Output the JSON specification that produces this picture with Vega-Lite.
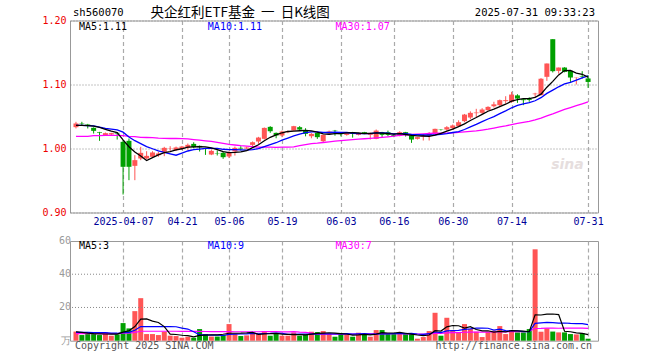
{
"$schema":"https://vega.github.io/schema/vega-lite/v6.json",
"autosize":{"type":"none"},
"padding":{"left":70,"top":20.5,"right":590,"bottom":339.5},
"background":"white",
"spacing":28.5,
"bounds":"flush",
"config":{"view":{"stroke":"#999","strokeWidth":1},"axis":{"labelFont":"DejaVu Sans Mono","labelFontSize":10,"ticks":false,"domain":false,"title":null,"labelOverlap":false}},
"datasets":{"k":[
{"i":0,"d":"2025-03-25","o":1.0333,"h":1.0417,"l":1.0313,"c":1.0391,"v":5.5,"m5":1.036,"m10":1.036,"m30":1.019,"vm5":5.4,"vm10":5.0,"vm30":4.3},
{"i":1,"d":"2025-03-26","o":1.0391,"h":1.0417,"l":1.0365,"c":1.0385,"v":3.4,"m5":1.036,"m10":1.036,"m30":1.019,"vm5":5.0,"vm10":5.0,"vm30":4.3},
{"i":2,"d":"2025-03-27","o":1.0375,"h":1.0385,"l":1.0313,"c":1.0354,"v":4,"m5":1.0356,"m10":1.0358,"m30":1.019,"vm5":4.6,"vm10":5.0,"vm30":4.3},
{"i":3,"d":"2025-03-28","o":1.0323,"h":1.033,"l":1.0234,"c":1.0276,"v":4.4,"m5":1.035,"m10":1.0352,"m30":1.02,"vm5":4.3,"vm10":4.9,"vm30":4.3},
{"i":4,"d":"2025-03-31","o":1.0255,"h":1.026,"l":1.012,"c":1.0245,"v":3.4,"m5":1.033,"m10":1.0335,"m30":1.02,"vm5":4.14,"vm10":4.9,"vm30":4.3},
{"i":5,"d":"2025-04-01","o":1.0208,"h":1.025,"l":1.0203,"c":1.024,"v":5,"m5":1.03,"m10":1.0315,"m30":1.0205,"vm5":4.04,"vm10":4.8,"vm30":4.3},
{"i":6,"d":"2025-04-02","o":1.0219,"h":1.0245,"l":1.021,"c":1.024,"v":3,"m5":1.0271,"m10":1.0302,"m30":1.0205,"vm5":3.96,"vm10":4.6,"vm30":4.3},
{"i":7,"d":"2025-04-03","o":1.0245,"h":1.025,"l":1.014,"c":1.0234,"v":3.8,"m5":1.0247,"m10":1.029,"m30":1.0205,"vm5":3.92,"vm10":4.5,"vm30":4.3},
{"i":8,"d":"2025-04-07","o":1.0104,"h":1.013,"l":0.9281,"c":0.9714,"v":10.6,"m5":1.0135,"m10":1.0255,"m30":1.02,"vm5":5.16,"vm10":4.8,"vm30":4.5},
{"i":9,"d":"2025-04-08","o":1.012,"h":1.0156,"l":0.9505,"c":0.9714,"v":7.4,"m5":1.0028,"m10":1.0179,"m30":1.019,"vm5":5.96,"vm10":5.05,"vm30":4.6},
{"i":10,"d":"2025-04-09","o":0.9729,"h":0.9896,"l":0.9505,"c":0.9818,"v":17.8,"m5":0.9944,"m10":1.0122,"m30":1.0185,"vm5":8.52,"vm10":6.28,"vm30":5.0},
{"i":11,"d":"2025-04-10","o":0.9844,"h":1.0026,"l":0.9818,"c":0.9932,"v":25.6,"m5":0.9882,"m10":1.0077,"m30":1.0175,"vm5":13.04,"vm10":8.5,"vm30":5.7},
{"i":12,"d":"2025-04-11","o":0.9844,"h":0.9958,"l":0.9833,"c":0.9885,"v":4,"m5":0.9813,"m10":1.003,"m30":1.0172,"vm5":13.08,"vm10":8.5,"vm30":5.7},
{"i":13,"d":"2025-04-14","o":0.987,"h":0.9958,"l":0.986,"c":0.9938,"v":4,"m5":0.9857,"m10":0.9996,"m30":1.017,"vm5":11.76,"vm10":8.46,"vm30":5.7},
{"i":14,"d":"2025-04-15","o":0.9896,"h":0.9948,"l":0.987,"c":0.9922,"v":3.4,"m5":0.9899,"m10":0.9964,"m30":1.0162,"vm5":10.96,"vm10":8.46,"vm30":5.7},
{"i":15,"d":"2025-04-16","o":0.9948,"h":1.0026,"l":0.988,"c":1.001,"v":5.4,"m5":0.9937,"m10":0.9941,"m30":1.0158,"vm5":8.48,"vm10":8.5,"vm30":5.7},
{"i":16,"d":"2025-04-17","o":0.9995,"h":1.0036,"l":0.9964,"c":1.0,"v":3,"m5":0.9951,"m10":0.9917,"m30":1.0156,"vm5":3.96,"vm10":8.5,"vm30":5.7},
{"i":17,"d":"2025-04-18","o":0.9974,"h":1.003,"l":0.996,"c":1.0016,"v":2.8,"m5":0.9977,"m10":0.9895,"m30":1.0156,"vm5":3.72,"vm10":8.4,"vm30":5.7},
{"i":18,"d":"2025-04-21","o":0.9994,"h":1.004,"l":0.998,"c":1.0031,"v":1.8,"m5":0.9996,"m10":0.9927,"m30":1.0155,"vm5":3.28,"vm10":7.52,"vm30":5.65},
{"i":19,"d":"2025-04-22","o":1.001,"h":1.0078,"l":0.9984,"c":1.0057,"v":2.4,"m5":1.0023,"m10":0.9961,"m30":1.015,"vm5":3.08,"vm10":7.02,"vm30":5.6},
{"i":20,"d":"2025-04-23","o":1.0072,"h":1.0098,"l":1.0005,"c":1.002,"v":1.8,"m5":1.0025,"m10":0.9981,"m30":1.014,"vm5":2.36,"vm10":5.42,"vm30":5.6},
{"i":21,"d":"2025-04-24","o":1.0041,"h":1.0046,"l":0.9953,"c":1.002,"v":7,"m5":1.0029,"m10":0.999,"m30":1.013,"vm5":3.16,"vm10":3.56,"vm30":5.6},
{"i":22,"d":"2025-04-25","o":1.0005,"h":1.001,"l":0.99,"c":0.9995,"v":4,"m5":1.0025,"m10":1.0001,"m30":1.012,"vm5":3.4,"vm10":3.56,"vm30":5.55},
{"i":23,"d":"2025-04-28","o":0.9906,"h":0.9984,"l":0.9896,"c":0.9963,"v":2.5,"m5":1.0011,"m10":1.0003,"m30":1.011,"vm5":3.54,"vm10":3.41,"vm30":5.5},
{"i":24,"d":"2025-04-29","o":0.9922,"h":0.9969,"l":0.9891,"c":0.9916,"v":2.5,"m5":0.9983,"m10":1.0003,"m30":1.0095,"vm5":3.56,"vm10":3.32,"vm30":5.5},
{"i":25,"d":"2025-04-30","o":0.9932,"h":0.9953,"l":0.9838,"c":0.9864,"v":3.4,"m5":0.9952,"m10":0.9988,"m30":1.008,"vm5":3.88,"vm10":3.12,"vm30":5.45},
{"i":26,"d":"2025-05-06","o":0.9875,"h":0.9958,"l":0.985,"c":0.9942,"v":10,"m5":0.9936,"m10":0.9982,"m30":1.0065,"vm5":4.48,"vm10":3.82,"vm30":5.45},
{"i":27,"d":"2025-05-07","o":0.9953,"h":1.003,"l":0.989,"c":1.001,"v":4,"m5":0.9939,"m10":0.9982,"m30":1.0055,"vm5":4.48,"vm10":3.94,"vm30":5.4},
{"i":28,"d":"2025-05-08","o":1.001,"h":1.0036,"l":0.9968,"c":1.0,"v":2.8,"m5":0.9946,"m10":0.9979,"m30":1.0045,"vm5":4.54,"vm10":4.04,"vm30":5.4},
{"i":29,"d":"2025-05-09","o":1.0,"h":1.003,"l":0.999,"c":1.0015,"v":3.2,"m5":0.9966,"m10":0.9974,"m30":1.0038,"vm5":4.68,"vm10":4.12,"vm30":5.4},
{"i":30,"d":"2025-05-12","o":1.0057,"h":1.011,"l":1.002,"c":1.0098,"v":5,"m5":1.0013,"m10":0.9982,"m30":1.0029,"vm5":5.0,"vm10":4.44,"vm30":5.38},
{"i":31,"d":"2025-05-13","o":1.0109,"h":1.0182,"l":1.0073,"c":1.0171,"v":4,"m5":1.0059,"m10":0.9997,"m30":1.0021,"vm5":3.8,"vm10":4.14,"vm30":5.4},
{"i":32,"d":"2025-05-14","o":1.0151,"h":1.0328,"l":1.014,"c":1.0322,"v":5.8,"m5":1.0121,"m10":1.003,"m30":1.002,"vm5":4.16,"vm10":4.32,"vm30":5.46},
{"i":33,"d":"2025-05-15","o":1.0338,"h":1.0349,"l":1.0245,"c":1.027,"v":3,"m5":1.0175,"m10":1.0061,"m30":1.002,"vm5":4.2,"vm10":4.37,"vm30":5.41},
{"i":34,"d":"2025-05-16","o":1.0244,"h":1.025,"l":1.016,"c":1.0203,"v":4,"m5":1.0213,"m10":1.009,"m30":1.0019,"vm5":4.36,"vm10":4.52,"vm30":5.43},
{"i":35,"d":"2025-05-19","o":1.0203,"h":1.028,"l":1.0177,"c":1.0265,"v":3,"m5":1.0246,"m10":1.013,"m30":1.002,"vm5":3.96,"vm10":4.48,"vm30":5.37},
{"i":36,"d":"2025-05-20","o":1.0255,"h":1.028,"l":1.024,"c":1.027,"v":3,"m5":1.0266,"m10":1.0162,"m30":1.0021,"vm5":3.76,"vm10":3.78,"vm30":5.37},
{"i":37,"d":"2025-05-21","o":1.0281,"h":1.0354,"l":1.0276,"c":1.0349,"v":5,"m5":1.0271,"m10":1.0196,"m30":1.0024,"vm5":3.6,"vm10":3.88,"vm30":5.41},
{"i":38,"d":"2025-05-22","o":1.0333,"h":1.035,"l":1.028,"c":1.0296,"v":3,"m5":1.0277,"m10":1.0226,"m30":1.0044,"vm5":3.6,"vm10":3.9,"vm30":5.15},
{"i":39,"d":"2025-05-23","o":1.0281,"h":1.0317,"l":1.019,"c":1.0229,"v":3.5,"m5":1.0282,"m10":1.0247,"m30":1.0061,"vm5":3.5,"vm10":3.93,"vm30":5.02},
{"i":40,"d":"2025-05-26","o":1.0192,"h":1.024,"l":1.016,"c":1.0229,"v":5.4,"m5":1.0275,"m10":1.026,"m30":1.0075,"vm5":3.98,"vm10":3.97,"vm30":4.61},
{"i":41,"d":"2025-05-27","o":1.0244,"h":1.025,"l":1.015,"c":1.0177,"v":5.2,"m5":1.0256,"m10":1.0261,"m30":1.0083,"vm5":4.42,"vm10":4.09,"vm30":3.93},
{"i":42,"d":"2025-05-28","o":1.0114,"h":1.0216,"l":1.0088,"c":1.0213,"v":5.8,"m5":1.0229,"m10":1.025,"m30":1.0094,"vm5":4.58,"vm10":4.09,"vm30":3.99},
{"i":43,"d":"2025-05-29","o":1.0234,"h":1.028,"l":1.022,"c":1.0265,"v":4,"m5":1.0223,"m10":1.025,"m30":1.0105,"vm5":4.78,"vm10":4.19,"vm30":3.99},
{"i":44,"d":"2025-05-30","o":1.0281,"h":1.029,"l":1.02,"c":1.0276,"v":2.4,"m5":1.0232,"m10":1.0257,"m30":1.0116,"vm5":4.56,"vm10":4.03,"vm30":3.96},
{"i":45,"d":"2025-06-03","o":1.0244,"h":1.025,"l":1.019,"c":1.0224,"v":4,"m5":1.0231,"m10":1.0253,"m30":1.0124,"vm5":4.28,"vm10":4.13,"vm30":3.91},
{"i":46,"d":"2025-06-04","o":1.0213,"h":1.025,"l":1.02,"c":1.0239,"v":4,"m5":1.0243,"m10":1.025,"m30":1.0132,"vm5":4.04,"vm10":4.23,"vm30":3.94},
{"i":47,"d":"2025-06-05","o":1.0255,"h":1.026,"l":1.017,"c":1.0234,"v":2.4,"m5":1.0248,"m10":1.0238,"m30":1.0139,"vm5":3.36,"vm10":3.97,"vm30":3.93},
{"i":48,"d":"2025-06-06","o":1.0213,"h":1.0245,"l":1.0205,"c":1.0239,"v":4.8,"m5":1.0242,"m10":1.0233,"m30":1.0146,"vm5":3.52,"vm10":4.15,"vm30":4.03},
{"i":49,"d":"2025-06-09","o":1.0255,"h":1.026,"l":1.0225,"c":1.0234,"v":4,"m5":1.0234,"m10":1.0233,"m30":1.0152,"vm5":3.84,"vm10":4.2,"vm30":4.08},
{"i":50,"d":"2025-06-10","o":1.0213,"h":1.025,"l":1.014,"c":1.0229,"v":2.4,"m5":1.0235,"m10":1.0233,"m30":1.0159,"vm5":3.52,"vm10":3.9,"vm30":4.1},
{"i":51,"d":"2025-06-11","o":1.015,"h":1.0297,"l":1.0145,"c":1.028,"v":6.4,"m5":1.0243,"m10":1.0243,"m30":1.0167,"vm5":4.0,"vm10":4.02,"vm30":4.08},
{"i":52,"d":"2025-06-12","o":1.0255,"h":1.026,"l":1.0174,"c":1.0213,"v":6.4,"m5":1.0239,"m10":1.0243,"m30":1.0175,"vm5":4.8,"vm10":4.08,"vm30":4.16},
{"i":53,"d":"2025-06-13","o":1.0255,"h":1.028,"l":1.019,"c":1.0213,"v":4,"m5":1.0234,"m10":1.0238,"m30":1.0183,"vm5":4.64,"vm10":4.08,"vm30":4.21},
{"i":54,"d":"2025-06-16","o":1.0213,"h":1.0229,"l":1.0177,"c":1.0197,"v":4,"m5":1.0226,"m10":1.023,"m30":1.0192,"vm5":4.64,"vm10":4.24,"vm30":4.26},
{"i":55,"d":"2025-06-17","o":1.0203,"h":1.027,"l":1.019,"c":1.0255,"v":4,"m5":1.0232,"m10":1.0233,"m30":1.0205,"vm5":4.96,"vm10":4.24,"vm30":4.28},
{"i":56,"d":"2025-06-18","o":1.0255,"h":1.026,"l":1.0187,"c":1.0218,"v":4,"m5":1.0219,"m10":1.0231,"m30":1.0214,"vm5":4.48,"vm10":4.24,"vm30":4.08},
{"i":57,"d":"2025-06-19","o":1.0203,"h":1.021,"l":1.0088,"c":1.014,"v":4,"m5":1.0205,"m10":1.0222,"m30":1.0219,"vm5":4.0,"vm10":4.4,"vm30":4.08},
{"i":58,"d":"2025-06-20","o":1.0151,"h":1.018,"l":1.014,"c":1.0177,"v":1.2,"m5":1.0197,"m10":1.0216,"m30":1.0225,"vm5":3.44,"vm10":4.04,"vm30":4.03},
{"i":59,"d":"2025-06-23","o":1.018,"h":1.0229,"l":1.0125,"c":1.0187,"v":2.2,"m5":1.0195,"m10":1.0211,"m30":1.023,"vm5":3.08,"vm10":3.86,"vm30":4.0},
{"i":60,"d":"2025-06-24","o":1.0203,"h":1.0255,"l":1.0125,"c":1.0229,"v":5.8,"m5":1.019,"m10":1.0211,"m30":1.0235,"vm5":3.44,"vm10":4.2,"vm30":4.02},
{"i":61,"d":"2025-06-25","o":1.0229,"h":1.031,"l":1.022,"c":1.0307,"v":16.8,"m5":1.0208,"m10":1.0214,"m30":1.0239,"vm5":6.0,"vm10":5.24,"vm30":4.45},
{"i":62,"d":"2025-06-26","o":1.0297,"h":1.03,"l":1.028,"c":1.0292,"v":3,"m5":1.0238,"m10":1.0222,"m30":1.0238,"vm5":5.8,"vm10":4.9,"vm30":4.36},
{"i":63,"d":"2025-06-27","o":1.0296,"h":1.035,"l":1.028,"c":1.0333,"v":13.8,"m5":1.027,"m10":1.0234,"m30":1.024,"vm5":8.32,"vm10":5.88,"vm30":4.72},
{"i":64,"d":"2025-06-30","o":1.0318,"h":1.0375,"l":1.03,"c":1.036,"v":6.4,"m5":1.0304,"m10":1.025,"m30":1.0246,"vm5":9.16,"vm10":6.12,"vm30":4.8},
{"i":65,"d":"2025-07-01","o":1.0349,"h":1.044,"l":1.034,"c":1.0411,"v":5,"m5":1.0341,"m10":1.0265,"m30":1.0251,"vm5":9.0,"vm10":6.22,"vm30":4.86},
{"i":66,"d":"2025-07-02","o":1.0427,"h":1.054,"l":1.041,"c":1.053,"v":10,"m5":1.0385,"m10":1.0297,"m30":1.0259,"vm5":7.64,"vm10":6.82,"vm30":5.1},
{"i":67,"d":"2025-07-03","o":1.0484,"h":1.058,"l":1.046,"c":1.0557,"v":7,"m5":1.0438,"m10":1.0338,"m30":1.0266,"vm5":8.44,"vm10":7.12,"vm30":5.16},
{"i":68,"d":"2025-07-04","o":1.0552,"h":1.062,"l":1.049,"c":1.0562,"v":5.4,"m5":1.0484,"m10":1.0377,"m30":1.0275,"vm5":6.76,"vm10":7.54,"vm30":5.24},
{"i":69,"d":"2025-07-07","o":1.0557,"h":1.063,"l":1.054,"c":1.0609,"v":2.2,"m5":1.0534,"m10":1.0419,"m30":1.0288,"vm5":5.92,"vm10":7.54,"vm30":5.2},
{"i":70,"d":"2025-07-08","o":1.0599,"h":1.066,"l":1.059,"c":1.065,"v":5.4,"m5":1.0582,"m10":1.0461,"m30":1.0302,"vm5":6.0,"vm10":7.5,"vm30":5.2},
{"i":71,"d":"2025-07-09","o":1.066,"h":1.073,"l":1.064,"c":1.069,"v":6,"m5":1.0614,"m10":1.0499,"m30":1.0319,"vm5":5.2,"vm10":6.42,"vm30":5.23},
{"i":72,"d":"2025-07-10","o":1.0677,"h":1.0765,"l":1.066,"c":1.0755,"v":8.8,"m5":1.0653,"m10":1.0546,"m30":1.0337,"vm5":5.56,"vm10":7.0,"vm30":5.33},
{"i":73,"d":"2025-07-11","o":1.074,"h":1.0817,"l":1.07,"c":1.0755,"v":4,"m5":1.0692,"m10":1.0588,"m30":1.0353,"vm5":5.28,"vm10":6.02,"vm30":5.33},
{"i":74,"d":"2025-07-14","o":1.073,"h":1.0885,"l":1.0713,"c":1.0843,"v":6,"m5":1.0739,"m10":1.0636,"m30":1.0372,"vm5":6.04,"vm10":5.98,"vm30":5.45},
{"i":75,"d":"2025-07-15","o":1.083,"h":1.0848,"l":1.0713,"c":1.078,"v":5,"m5":1.0765,"m10":1.0673,"m30":1.0391,"vm5":5.96,"vm10":5.98,"vm30":5.48},
{"i":76,"d":"2025-07-16","o":1.077,"h":1.0775,"l":1.0677,"c":1.0755,"v":5,"m5":1.0778,"m10":1.0696,"m30":1.0408,"vm5":5.76,"vm10":5.48,"vm30":5.51},
{"i":77,"d":"2025-07-17","o":1.0775,"h":1.08,"l":1.073,"c":1.076,"v":7,"m5":1.0779,"m10":1.0716,"m30":1.0425,"vm5":5.4,"vm10":5.48,"vm30":5.67},
{"i":78,"d":"2025-07-18","o":1.0848,"h":1.087,"l":1.08,"c":1.0858,"v":55,"m5":1.0799,"m10":1.0746,"m30":1.0446,"vm5":15.6,"vm10":10.44,"vm30":7.34},
{"i":79,"d":"2025-07-21","o":1.0833,"h":1.11,"l":1.0833,"c":1.109,"v":5.4,"m5":1.0849,"m10":1.0794,"m30":1.0475,"vm5":15.48,"vm10":10.76,"vm30":7.39},
{"i":80,"d":"2025-07-22","o":1.112,"h":1.1328,"l":1.1057,"c":1.1328,"v":7.5,"m5":1.0958,"m10":1.0861,"m30":1.0511,"vm5":15.98,"vm10":10.97,"vm30":7.56},
{"i":81,"d":"2025-07-23","o":1.1708,"h":1.1708,"l":1.1188,"c":1.1208,"v":5.5,"m5":1.1049,"m10":1.0913,"m30":1.0542,"vm5":16.08,"vm10":10.92,"vm30":7.53},
{"i":82,"d":"2025-07-24","o":1.1213,"h":1.1265,"l":1.117,"c":1.1265,"v":5,"m5":1.115,"m10":1.0964,"m30":1.0577,"vm5":15.68,"vm10":10.54,"vm30":7.48},
{"i":83,"d":"2025-07-25","o":1.1265,"h":1.127,"l":1.119,"c":1.1198,"v":5,"m5":1.1218,"m10":1.1009,"m30":1.061,"vm5":5.68,"vm10":10.64,"vm30":7.51},
{"i":84,"d":"2025-07-28","o":1.1213,"h":1.1213,"l":1.104,"c":1.1109,"v":4,"m5":1.1222,"m10":1.1035,"m30":1.064,"vm5":5.4,"vm10":10.44,"vm30":7.51},
{"i":85,"d":"2025-07-29","o":1.1104,"h":1.111,"l":1.1,"c":1.1109,"v":3.8,"m5":1.1178,"m10":1.1068,"m30":1.0669,"vm5":4.66,"vm10":10.32,"vm30":7.51},
{"i":86,"d":"2025-07-30","o":1.113,"h":1.1208,"l":1.1094,"c":1.112,"v":4.5,"m5":1.116,"m10":1.1105,"m30":1.0699,"vm5":4.46,"vm10":10.27,"vm30":7.52},
{"i":87,"d":"2025-07-31","o":1.1094,"h":1.1145,"l":1.0948,"c":1.104,"v":1.2,"m5":1.1115,"m10":1.1133,"m30":1.0729,"vm5":3.7,"vm10":9.69,"vm30":7.43}
],
"hl":[{"t":"sh560070","x":-0.5,"y":1.2114}],
"hr":[{"t":"2025-07-31 09:33:23","x":88.17,"y":1.2114}],
"ttl":[{"t":"央企红利ETF基金\u00a0\u00a0一\u00a0\u00a0日K线图","x":27.9,"y":1.2114}],
"wm":[{"t":"sina","x":83.5,"y":0.974}],
"mal":[
{"t":"MA5:1.11","x":0.5,"y":1.1895,"s":"MA5"},
{"t":"MA10:1.11","x":22.4,"y":1.1895,"s":"MA10"},
{"t":"MA30:1.07","x":44.1,"y":1.1895,"s":"MA30"}
],
"val":[
{"t":"MA5:3","x":0.5,"y":56.8,"s":"MA5"},
{"t":"MA10:9","x":22.4,"y":56.8,"s":"MA10"},
{"t":"MA30:7","x":44.1,"y":56.8,"s":"MA30"}
],
"vgrid":[{"v":20},{"v":40}],
"vlab":[{"v":0,"t":"万"},{"v":20,"t":"20"},{"v":40,"t":"40"},{"v":60,"t":"60"}],
"fl":[{"t":"Copyright 2025 SINA.COM","x":-0.17,"y":-3.4}],
"fr":[{"t":"http://finance.sina.com.cn","x":87.67,"y":-3.4}]
},
"vconcat":[
{
"width":528,"height":192,
"layer":[
{"data":{"name":"wm"},"mark":{"type":"text","align":"center","baseline":"middle","font":"DejaVu Sans","fontSize":14,"fontStyle":"italic","fontWeight":"bold","color":"#e6dede"},
 "encoding":{"x":{"field":"x","type":"quantitative","scale":{"domain":[-0.1667,87.8333],"nice":false,"zero":false},
   "axis":{"values":[8,18,26,35,45,54,64,74,87],"labelExpr":"['2025-04-07','04-21','05-06','05-19','06-03','06-16','06-30','07-14','07-31'][indexof([8,18,26,35,45,54,64,74,87], datum.value)]","grid":true,"gridDash":[4,3],"gridColor":"#aaa","gridWidth":1.2,"labelColor":"#000099","labelPadding":4,"labelFlush":false}},
  "y":{"field":"y","type":"quantitative","scale":{"domain":[0.9,1.2],"nice":false,"zero":false},
   "axis":{"values":[0.9,0.95,1.0,1.05,1.1,1.15,1.2],"format":".2f","grid":true,"gridDash":[1,2],"gridColor":"#888","labelColor":"#ee0000","labelPadding":4}},
  "text":{"field":"t"}}},
{"data":{"name":"k"},"mark":{"type":"rule","strokeWidth":1},
 "encoding":{"x":{"field":"i","type":"quantitative"},"y":{"field":"l","type":"quantitative"},"y2":{"field":"h"},
  "color":{"condition":{"test":"datum.c >= datum.o","value":"#ff5555"},"value":"#00a000"}}},
{"data":{"name":"k"},"mark":{"type":"bar","width":5},
 "encoding":{"x":{"field":"i","type":"quantitative"},"y":{"field":"o","type":"quantitative"},"y2":{"field":"c"},
  "color":{"condition":{"test":"datum.c >= datum.o","value":"#ff5555"},"value":"#00a000"}}},
{"data":{"name":"k"},"mark":{"type":"line","color":"#ff00ff","strokeWidth":1.3},"encoding":{"x":{"field":"i","type":"quantitative"},"y":{"field":"m30","type":"quantitative"}}},
{"data":{"name":"k"},"mark":{"type":"line","color":"#0000ff","strokeWidth":1.3},"encoding":{"x":{"field":"i","type":"quantitative"},"y":{"field":"m10","type":"quantitative"}}},
{"data":{"name":"k"},"mark":{"type":"line","color":"#000000","strokeWidth":1.3},"encoding":{"x":{"field":"i","type":"quantitative"},"y":{"field":"m5","type":"quantitative"}}},
{"data":{"name":"mal"},"mark":{"type":"text","align":"left","baseline":"middle","font":"DejaVu Sans Mono","fontSize":10},
 "encoding":{"x":{"field":"x","type":"quantitative"},"y":{"field":"y","type":"quantitative"},"text":{"field":"t"},
  "color":{"field":"s","type":"nominal","scale":{"domain":["MA5","MA10","MA30"],"range":["#000000","#0000ff","#ff00ff"]},"legend":null}}},
{"data":{"name":"hl"},"mark":{"type":"text","align":"left","baseline":"middle","font":"DejaVu Sans Mono","fontSize":10.5,"clip":false,"color":"#000"},
 "encoding":{"x":{"field":"x","type":"quantitative"},"y":{"field":"y","type":"quantitative"},"text":{"field":"t"}}},
{"data":{"name":"hr"},"mark":{"type":"text","align":"right","baseline":"middle","font":"DejaVu Sans Mono","fontSize":10.5,"clip":false,"color":"#000"},
 "encoding":{"x":{"field":"x","type":"quantitative"},"y":{"field":"y","type":"quantitative"},"text":{"field":"t"}}},
{"data":{"name":"ttl"},"mark":{"type":"text","baseline":"middle","align":"center","font":"Noto Sans CJK SC","fontSize":13.5,"clip":false,"color":"#000"},
 "encoding":{"x":{"field":"x","type":"quantitative"},"y":{"field":"y","type":"quantitative"},"text":{"field":"t"}}}
]
},
{
"width":528,"height":99.7,
"layer":[
{"data":{"name":"k"},"mark":{"type":"bar","width":5},
 "encoding":{"x":{"field":"i","type":"quantitative","scale":{"domain":[-0.1667,87.8333],"nice":false,"zero":false},
   "axis":{"values":[8,18,26,35,45,54,64,74,87],"labels":false,"grid":true,"gridDash":[4,3],"gridColor":"#aaa","gridWidth":1.2}},
  "y":{"field":"v","type":"quantitative","scale":{"domain":[0,60],"nice":false},"axis":null},
  "color":{"condition":{"test":"datum.c >= datum.o","value":"#ff5555"},"value":"#00a000"}}},
{"data":{"name":"vgrid"},"mark":{"type":"rule","strokeDash":[1,2],"color":"#888","strokeWidth":1},
 "encoding":{"y":{"field":"v","type":"quantitative","axis":null}}},
{"data":{"name":"vlab"},"mark":{"type":"text","align":"right","baseline":"middle","dx":-4,"font":"DejaVu Sans Mono","fontSize":10,"color":"#999","clip":false},
 "encoding":{"x":{"datum":-0.1667,"type":"quantitative"},"y":{"field":"v","type":"quantitative","axis":null},"text":{"field":"t"}}},
{"data":{"name":"k"},"mark":{"type":"line","color":"#ff00ff","strokeWidth":1.2},"encoding":{"x":{"field":"i","type":"quantitative"},"y":{"field":"vm30","type":"quantitative","axis":null}}},
{"data":{"name":"k"},"mark":{"type":"line","color":"#0000ff","strokeWidth":1.2},"encoding":{"x":{"field":"i","type":"quantitative"},"y":{"field":"vm10","type":"quantitative","axis":null}}},
{"data":{"name":"k"},"mark":{"type":"line","color":"#000000","strokeWidth":1.2},"encoding":{"x":{"field":"i","type":"quantitative"},"y":{"field":"vm5","type":"quantitative","axis":null}}},
{"data":{"name":"val"},"mark":{"type":"text","align":"left","baseline":"middle","font":"DejaVu Sans Mono","fontSize":10},
 "encoding":{"x":{"field":"x","type":"quantitative"},"y":{"field":"y","type":"quantitative","axis":null},"text":{"field":"t"},
  "color":{"field":"s","type":"nominal","scale":{"domain":["MA5","MA10","MA30"],"range":["#000000","#0000ff","#ff00ff"]},"legend":null}}},
{"data":{"name":"fl"},"mark":{"type":"text","align":"left","baseline":"middle","font":"DejaVu Sans Mono","fontSize":10,"clip":false,"color":"#555"},
 "encoding":{"x":{"field":"x","type":"quantitative"},"y":{"field":"y","type":"quantitative","axis":null},"text":{"field":"t"}}},
{"data":{"name":"fr"},"mark":{"type":"text","align":"right","baseline":"middle","font":"DejaVu Sans Mono","fontSize":10,"clip":false,"color":"#555"},
 "encoding":{"x":{"field":"x","type":"quantitative"},"y":{"field":"y","type":"quantitative","axis":null},"text":{"field":"t"}}}
]
}
]
}
